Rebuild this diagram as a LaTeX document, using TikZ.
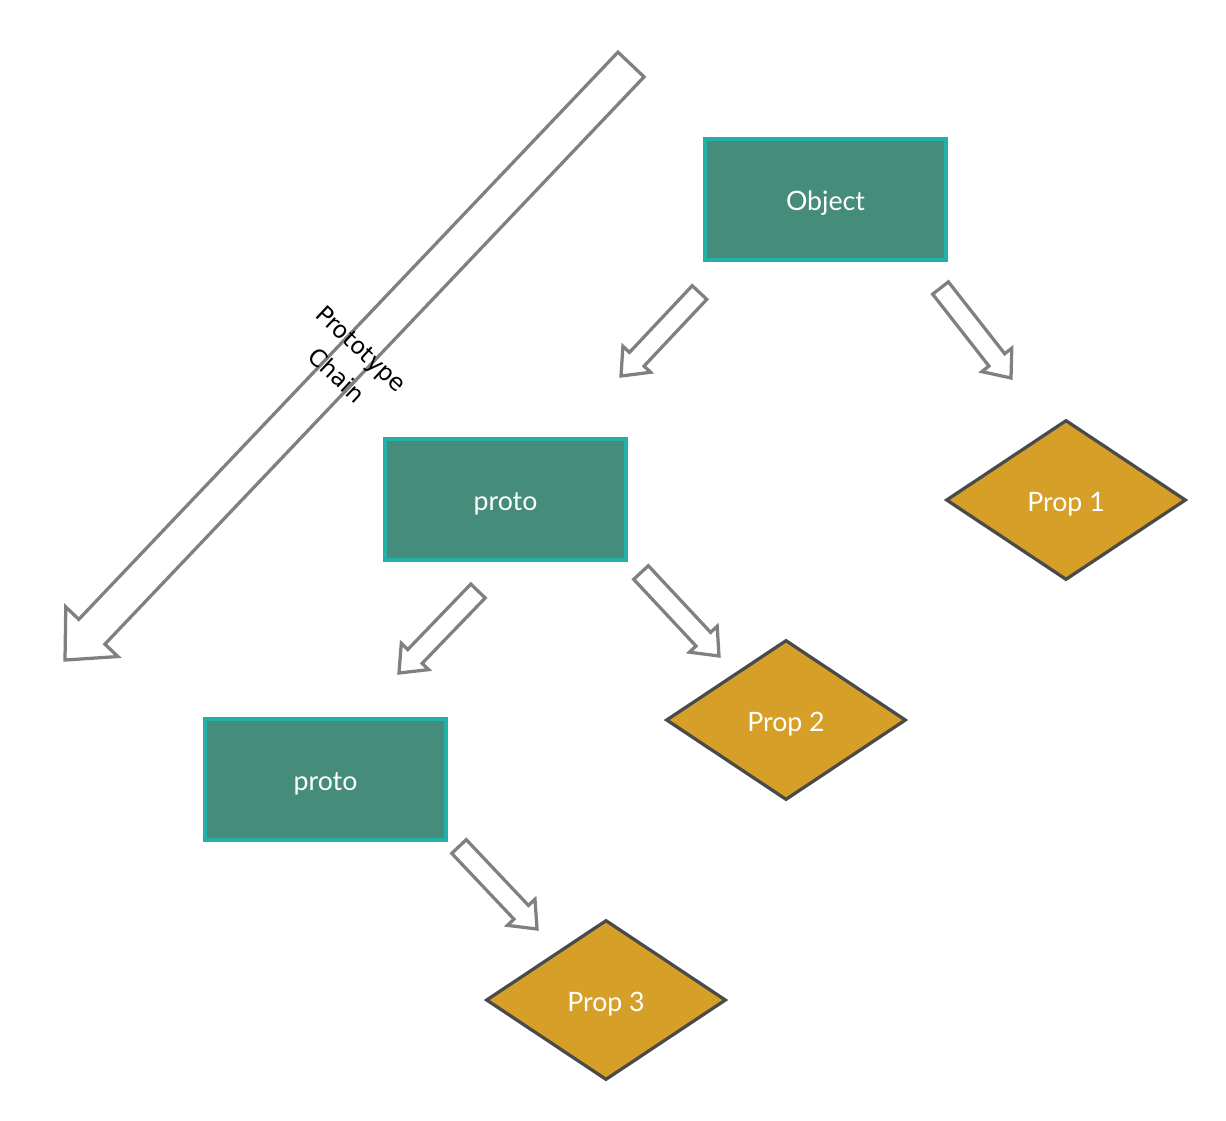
\documentclass[tikz,border=0pt]{standalone}
\usepackage{fontspec}
\setmainfont{Lato}
\newfontfamily\chainfont{DejaVu Sans}
\usetikzlibrary{calc,shapes.geometric}

\definecolor{objfill}{HTML}{458C7A}
\definecolor{objedge}{HTML}{22B1A8}
\definecolor{propfill}{HTML}{D6A028}
\definecolor{propedge}{HTML}{4A4A4A}
\definecolor{arrowgray}{HTML}{808080}

\tikzset{
  objbox/.style={draw=objedge, fill=objfill, line width=0.065cm,
    minimum width=4.82cm, minimum height=2.42cm, inner sep=0pt,
    text height=0.44cm, text depth=0pt,
    text=white, font=\fontsize{15.2}{18}\selectfont},
  propbox/.style={diamond, aspect=1.5, draw=propedge, fill=propfill,
    line width=0.065cm, minimum width=4.8cm, minimum height=3.2cm,
    inner sep=0pt, text height=0.44cm, text depth=0pt,
    text=white, font=\fontsize{15.2}{18}\selectfont},
  arrowline/.style={draw=arrowgray, fill=white, line width=0.065cm}
}

% hollow block arrow: tail, tip, half shaft, head length, half head
\newcommand{\hollowarrow}[5]{%
  \coordinate (tl) at (#1);
  \coordinate (tp) at (#2);
  \coordinate (nk) at ($(tp)!#4!(tl)$);
  \draw[arrowline] ($(tl)!#3!90:(tp)$) -- ($(nk)!#3!90:(tp)$)
    -- ($(nk)!#5!90:(tp)$) -- (tp) -- ($(nk)!#5!-90:(tp)$)
    -- ($(nk)!#3!-90:(tp)$) -- ($(tl)!#3!-90:(tp)$) -- cycle;
}

\begin{document}
\begin{tikzpicture}[x=0.02cm,y=-0.02cm]
\useasboundingbox (0,0) rectangle (1226,1120);

% prototype chain arrow
\coordinate (chain-tail) at (631,64.5);
\coordinate (chain-tip) at (65,660);
\hollowarrow{chain-tail}{chain-tip}{0.36cm}{0.78cm}{0.72cm}
\node[rotate=-43, align=center, font=\chainfont\fontsize{13.4}{20.6}\selectfont]
  (chain-label) at (349,362) {Prototype\\Chain};

% objects
\node[objbox] (object) at (825.5,199.5) {Object};
\node[objbox] (proto-a) at (505.5,499.5) {proto};
\node[objbox] (proto-b) at (325.5,779.5) {proto};

% properties
\node[propbox] (prop-a) at (1066,500) {Prop 1};
\node[propbox] (prop-b) at (786,720) {Prop 2};
\node[propbox] (prop-c) at (606,1000) {Prop 3};

% small arrows
\coordinate (object-tail-l) at (699.5,292.5);
\coordinate (object-tip-l) at (621,376);
\coordinate (object-tail-r) at (940.5,288);
\coordinate (object-tip-r) at (1011,378);
\coordinate (proto-a-tail-l) at (478,591);
\coordinate (proto-a-tip-l) at (399,673);
\coordinate (proto-a-tail-r) at (641,572.5);
\coordinate (proto-a-tip-r) at (719,656);
\coordinate (proto-b-tail-r) at (459,846.5);
\coordinate (proto-b-tip-r) at (537,929);

\hollowarrow{object-tail-l}{object-tip-l}{0.2cm}{0.46cm}{0.38cm}
\hollowarrow{object-tail-r}{object-tip-r}{0.2cm}{0.46cm}{0.38cm}
\hollowarrow{proto-a-tail-l}{proto-a-tip-l}{0.2cm}{0.46cm}{0.38cm}
\hollowarrow{proto-a-tail-r}{proto-a-tip-r}{0.2cm}{0.46cm}{0.38cm}
\hollowarrow{proto-b-tail-r}{proto-b-tip-r}{0.2cm}{0.46cm}{0.38cm}

\end{tikzpicture}
\end{document}
